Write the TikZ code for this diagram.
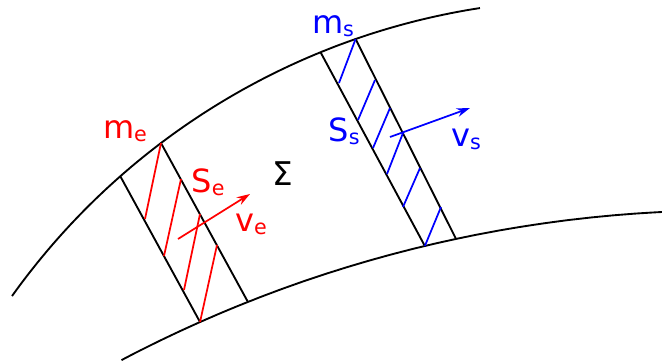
\documentclass[tikz,border=0pt]{standalone}
\usepackage{fontspec}
\setmainfont{DejaVu Sans}
\usetikzlibrary{arrows.meta}
\newcommand{\lbl}[2]{{\fontsize{24}{28}\selectfont #1\raisebox{-2.2pt}{\fontsize{15.5}{18}\selectfont #2}}}
\begin{document}
\begin{tikzpicture}[x=0.75pt,y=-0.75pt,
  curve/.style={line width=1.4pt,black},
  wall/.style={line width=1.4pt,black},
  redh/.style={line width=1.3pt,red},
  blueh/.style={line width=1.3pt,blue},
  vec/.style={line width=1.3pt,-{Stealth[length=10pt,width=6.5pt]}},
  txt/.style={inner sep=0pt,font=\fontsize{24.5}{28}\selectfont}]
\useasboundingbox (0,0) rectangle (662,362);
% upper boundary: circle centre (588.2,708.1), r 708.4
% lower boundary: circle centre (727.1,1509.8), r 1299.5
\coordinate (ul1) at ({588.2+708.4*cos(-131.34)},{708.1+708.4*sin(-131.34)});
\coordinate (ur1) at ({588.2+708.4*cos(-127.09)},{708.1+708.4*sin(-127.09)});
\coordinate (ul2) at ({588.2+708.4*cos(-112.2)},{708.1+708.4*sin(-112.2)});
\coordinate (ur2) at ({588.2+708.4*cos(-109.17)},{708.1+708.4*sin(-109.17)});
\coordinate (ll1) at ({727.1+1299.5*cos(-113.93)},{1509.8+1299.5*sin(-113.93)});
\coordinate (lr1) at ({727.1+1299.5*cos(-111.64)},{1509.8+1299.5*sin(-111.64)});
\coordinate (ll2) at ({727.1+1299.5*cos(-103.45)},{1509.8+1299.5*sin(-103.45)});
\coordinate (lr2) at ({727.1+1299.5*cos(-102.04)},{1509.8+1299.5*sin(-102.04)});
% curves
\draw[curve] plot[domain=-144.43:-98.79,samples=80] ({588.2+708.4*cos(\x)},{708.1+708.4*sin(\x)});
\draw[curve] plot[domain=-117.78:-92.87,samples=80] ({727.1+1299.5*cos(\x)},{1509.8+1299.5*sin(\x)});
% red slab
\draw[wall] (ul1) -- (ll1);
\draw[wall] (ur1) -- (lr1);
\draw[redh] (ur1) -- (145,219);
\draw[redh] (181,179) -- (164,256);
\draw[redh] (200,214) -- (184,290);
\draw[redh] (217,245) -- (ll1);
% blue slab
\draw[wall] (ul2) -- (ll2);
\draw[wall] (ur2) -- (lr2);
\draw[blueh] (ur2) -- (339,83);
\draw[blueh] (375,80) -- (358,120);
\draw[blueh] (390,108) -- (373,148);
\draw[blueh] (403,133) -- (387,174);
\draw[blueh] (420,168) -- (403,207);
\draw[blueh] (441,207) -- (ll2);
% velocity arrows
\coordinate (ve0) at (178,239);
\coordinate (ve1) at (250,194);
\coordinate (vs0) at (390,137);
\coordinate (vs1) at (470,108);
\draw[vec,red] (ve0) -- (ve1);
\draw[vec,blue] (vs0) -- (vs1);
% labels
\node[red,inner sep=0pt] (me) at (125,131) {\lbl{m}{e}};
\node[red,inner sep=0pt] (se) at (208,182) {\lbl{S}{e}};
\node[red,inner sep=0pt] (vel) at (251,224) {\lbl{v}{e}};
\node[blue,inner sep=0pt] (ms) at (333,26) {\lbl{m}{s}};
\node[blue,inner sep=0pt] (ss) at (344,131) {\lbl{S}{s}};
\node[blue,inner sep=0pt] (vsl) at (466,139) {\lbl{v}{s}};
\node[txt] (sig) at (283,174) {Σ};
\end{tikzpicture}
\end{document}
